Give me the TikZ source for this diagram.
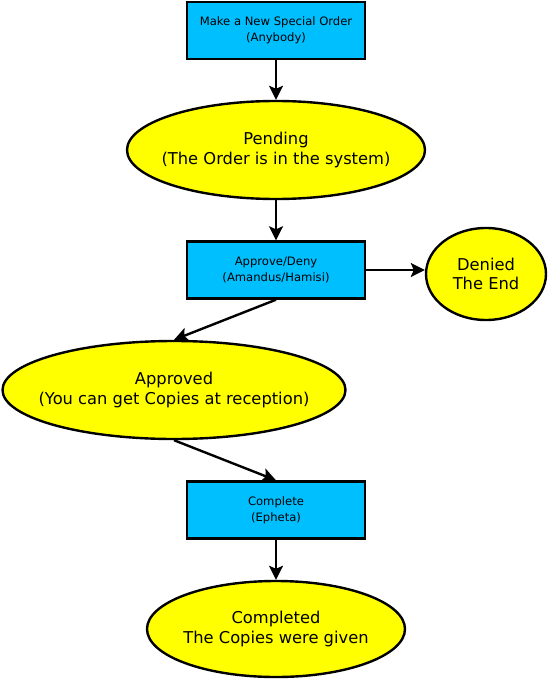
\documentclass[tikz,border=0pt]{standalone}
\usepackage{fontspec}
\setmainfont{DejaVu Sans}
\usetikzlibrary{shapes.geometric,arrows.meta}
\definecolor{boxblue}{HTML}{00BFFF}
\definecolor{stateyellow}{HTML}{FFFF00}
\begin{document}
\begin{tikzpicture}[x=1pt,y=-1pt,
					task/.style={draw, fill=boxblue, line width=2.4pt, minimum width=178pt, minimum height=57pt, align=center, font=\fontsize{11.6}{16}\selectfont},
					state/.style={draw, ellipse, fill=stateyellow, line width=2.4pt, inner xsep=-80pt, inner ysep=-20pt, align=center, font=\fontsize{16.3}{19.5}\selectfont},
					flow/.style={line width=2.4pt, -{Stealth[length=14pt,width=14pt,inset=3pt]}}]
					\useasboundingbox (0,0) rectangle (549,679);
					
					\node[task] (neworder) at (276,30.5) {Make a New Special Order\\(Anybody)};
					\node[state, minimum width=298pt, minimum height=98pt] (pending) at (276,150) {Pending\\(The Order is in the system)};
					\node[task] (approve) at (276,270) {Approve/Deny\\(Amandus/Hamisi)};
					\node[state, minimum width=120pt, minimum height=92pt] (denied) at (486,274) {Denied\\The End};
					\node[state, minimum width=343pt, minimum height=98pt] (approved) at (174,390) {Approved\\(You can get Copies at reception)};
					\node[task] (complete) at (276,510) {Complete\\(Epheta)};
					\node[state, minimum width=258pt, minimum height=96pt] (completed) at (276,629) {Completed\\The Copies were given};
					
					\draw[flow] (neworder.south) -- (pending.north);
					\draw[flow] (pending.south) -- (approve.north);
					\draw[flow] (approve.east) -- (approve.east -| denied.west);
					\draw[flow] (approve.south) -- (approved.north);
					\draw[flow] (approved.south) -- (complete.north);
					\draw[flow] (complete.south) -- (completed.north);
					
				\end{tikzpicture}
\end{document}
